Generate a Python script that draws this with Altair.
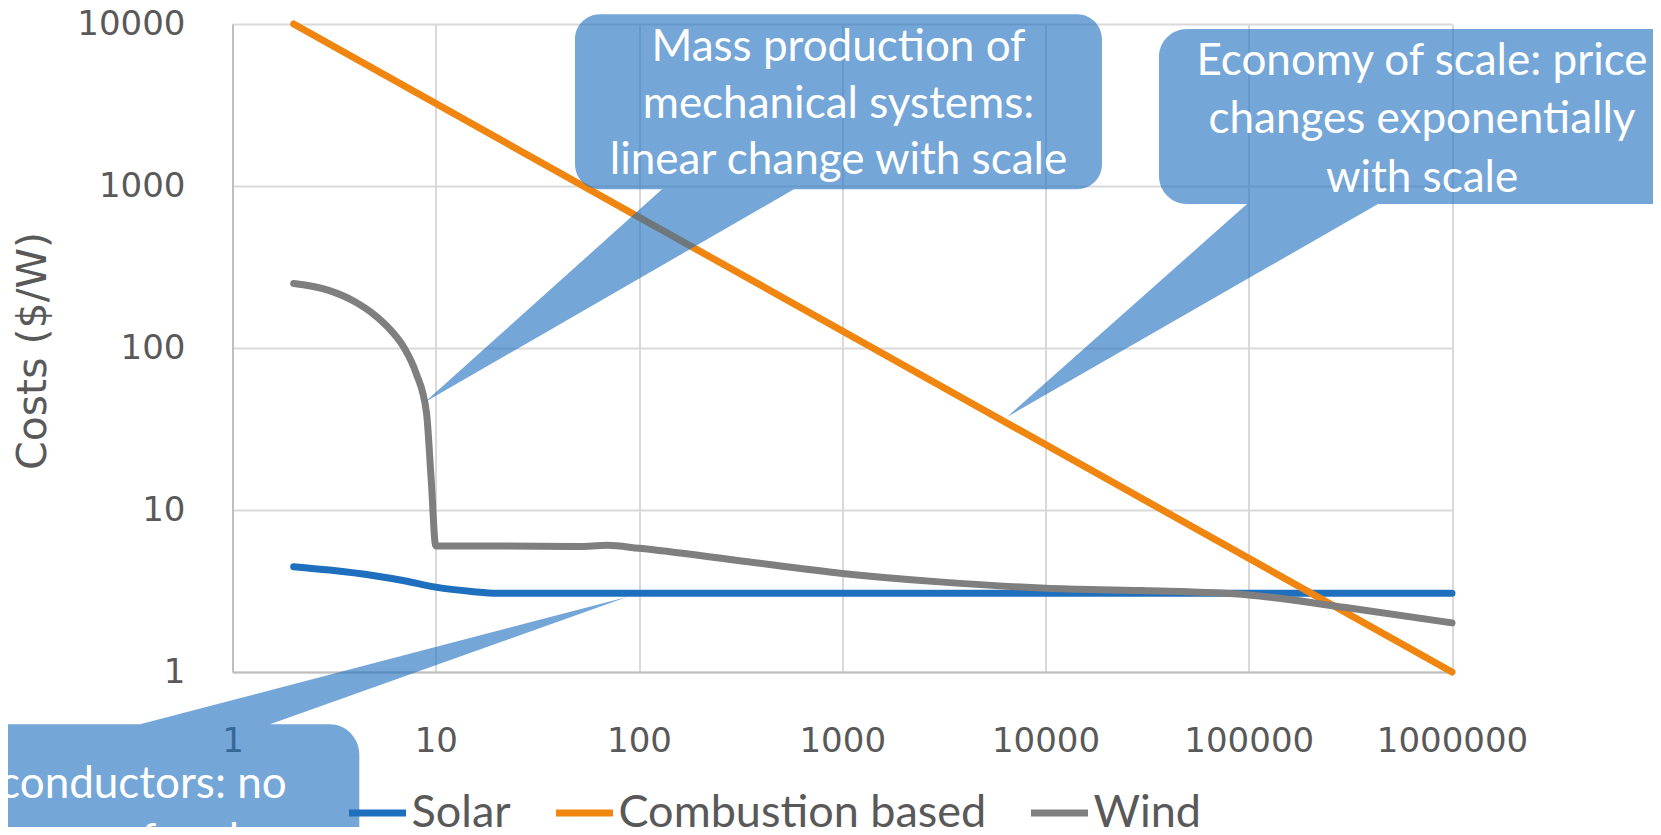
import altair as alt
import pandas as pd

# ---- data ----
series_names = ["Solar", "Combustion based", "Wind"]
series_colors = ["#1f6fbf", "#f0850f", "#7f7f7f"]

solar_x = [2, 3, 5, 7, 10, 15, 20, 100, 1000, 10000, 100000, 1000000]
solar_y = [4.47, 4.26, 3.93, 3.66, 3.34, 3.14, 3.06, 3.06, 3.06, 3.06, 3.06, 3.06]

comb_x = [2, 1000000]
comb_y = [10000, 1]

wind_x = [2, 3, 4, 5, 6, 7, 8, 9, 9.5, 10, 11, 20, 50, 70, 100, 300, 1000, 3000,
          10000, 30000, 100000, 300000, 1000000]
wind_y = [250, 226, 193, 160, 129, 100, 70, 40, 15.3, 6.0, 6.0, 6.0, 5.95, 6.05, 5.8,
          4.9, 4.06, 3.6, 3.29, 3.18, 2.99, 2.5, 2.01]

x_ticks = [1, 10, 100, 1000, 10000, 100000, 1000000]
y_ticks = [1, 10, 100, 1000, 10000]

rows = []
for name, xs, ys in [("Solar", solar_x, solar_y),
                     ("Combustion based", comb_x, comb_y),
                     ("Wind", wind_x, wind_y)]:
    for i, (xv, yv) in enumerate(zip(xs, ys)):
        rows.append({"series": name, "x": xv, "y": yv, "idx": i})
df = pd.DataFrame(rows)

# ---- layout (page pixels) ----
OX, OY = 232.5, 24.0          # plot-area origin on the page
W, H = 1219.5, 648.0          # plot-area size
TOTAL_W, TOTAL_H = 1645, 819

GRID = "#d9d9d9"
TXT = "#595959"
CALLOUT = "#1f6fbf"
K = 0.5523


def f(v):
    return f"{v:.1f}"


def callout_path(x0, y0, x1, y1, r, ba, bb, tip, side):
    """Rounded box with a wedge pointer, given in page px; returned in view px."""
    x0, x1, ba, bb = x0 - OX, x1 - OX, ba - OX, bb - OX
    y0, y1 = y0 - OY, y1 - OY
    tx, ty = tip[0] - OX, tip[1] - OY
    p = [f"M{f(x0 + r)},{f(y0)}"]
    if side == "top":
        p += [f"L{f(ba)},{f(y0)}", f"L{f(tx)},{f(ty)}", f"L{f(bb)},{f(y0)}"]
    p += [f"L{f(x1 - r)},{f(y0)}",
          f"C{f(x1 - r + K * r)},{f(y0)} {f(x1)},{f(y0 + r - K * r)} {f(x1)},{f(y0 + r)}",
          f"L{f(x1)},{f(y1 - r)}",
          f"C{f(x1)},{f(y1 - r + K * r)} {f(x1 - r + K * r)},{f(y1)} {f(x1 - r)},{f(y1)}"]
    if side == "bottom":
        p += [f"L{f(bb)},{f(y1)}", f"L{f(tx)},{f(ty)}", f"L{f(ba)},{f(y1)}"]
    p += [f"L{f(x0 + r)},{f(y1)}",
          f"C{f(x0 + r - K * r)},{f(y1)} {f(x0)},{f(y1 - r + K * r)} {f(x0)},{f(y1 - r)}",
          f"L{f(x0)},{f(y0 + r)}",
          f"C{f(x0)},{f(y0 + r - K * r)} {f(x0 + r - K * r)},{f(y0)} {f(x0 + r)},{f(y0)}",
          "Z"]
    return " ".join(p)


callouts = [
    dict(box=(575, 14.3, 1102, 189.3), r=25, base=(662, 794), tip=(425, 402), side="bottom",
         cx=838.5, y=61, lh=56.5,
         text=["Mass production of", "mechanical systems:", "linear change with scale"]),
    dict(box=(1159, 29, 1685, 204), r=28, base=(1247, 1378), tip=(1007, 417), side="bottom",
         cx=1422, y=75, lh=58.3,
         text=["Economy of scale: price", "changes exponentially", "with scale"]),
    dict(box=(-168, 724.3, 359.3, 920), r=30, base=(140, 270), tip=(627, 597), side="top",
         cx=96, y=798, lh=56.5,
         text=["Semiconductors: no", "economy of scale"]),
]

one = alt.Data(values=[{"a": 1}])

lines = alt.Chart(df).mark_line(
    strokeWidth=7, interpolate="monotone", strokeCap="round", strokeJoin="round"
).encode(
    x=alt.X("x:Q",
            scale=alt.Scale(type="log", domain=[1, 1000000], nice=False),
            axis=alt.Axis(values=x_ticks, format="d", title=None, grid=True,
                          labelPadding=52, labelBaseline="top", labelAlign="center",
                          labelFlush=False, labelOverlap=False)),
    y=alt.Y("y:Q",
            scale=alt.Scale(type="log", domain=[1, 10000], nice=False),
            axis=alt.Axis(values=y_ticks, format="d", title="Costs ($/W)", grid=True,
                          labelPadding=47.5, labelBaseline="middle", labelAlign="right",
                          labelFlush=False, labelOverlap=False,
                          titleX=33.3 - OX, titleY=350.5 - OY, titleAngle=270,
                          titleAlign="center", titleBaseline="middle",
                          titleFont="DejaVu Sans", titleFontSize=41,
                          titleFontWeight="normal", titleColor=TXT)),
    color=alt.Color("series:N",
                    scale=alt.Scale(domain=series_names, range=series_colors),
                    legend=alt.Legend(orient="none", legendX=113, legendY=757,
                                      direction="horizontal", title=None,
                                      symbolType="stroke", symbolSize=3249,
                                      symbolStrokeWidth=7, labelFont="Lato",
                                      labelFontSize=45, labelColor=TXT,
                                      columnPadding=30, labelOffset=2, padding=0,
                                      labelLimit=0)),
    order="idx:Q",
)

layers = [lines]
for c in callouts:
    x0, y0, x1, y1 = c["box"]
    path = callout_path(x0, y0, x1, y1, c["r"], c["base"][0], c["base"][1], c["tip"], c["side"])
    layers.append(
        alt.Chart(one).mark_point(shape=path, size=4, filled=True, fill=CALLOUT,
                                  opacity=0.62, strokeWidth=0)
        .encode(x=alt.value(0), y=alt.value(0))
    )
for c in callouts:
    layers.append(
        alt.Chart(one).mark_text(font="Lato", fontSize=44, color="white", align="center",
                                 baseline="alphabetic", lineHeight=c["lh"])
        .encode(x=alt.value(c["cx"] - OX), y=alt.value(c["y"] - OY), text=alt.value(c["text"]))
    )

chart = alt.layer(*layers).properties(
    width=W, height=H,
    autosize=alt.AutoSizeParams(type="none"),
    padding={"left": OX - 8, "top": OY - 8,
             "right": TOTAL_W - (OX - 8) - W, "bottom": TOTAL_H - (OY - 8) - H},
    background="white",
).configure_view(strokeWidth=0).configure_axis(
    labelFont="DejaVu Sans", labelFontSize=34, labelColor=TXT,
    gridColor=GRID, gridWidth=2, domainColor="#bfbfbf", domainWidth=2,
    ticks=False,
)

chart.save("out.html", embed_options={"renderer": "svg", "actions": False})
